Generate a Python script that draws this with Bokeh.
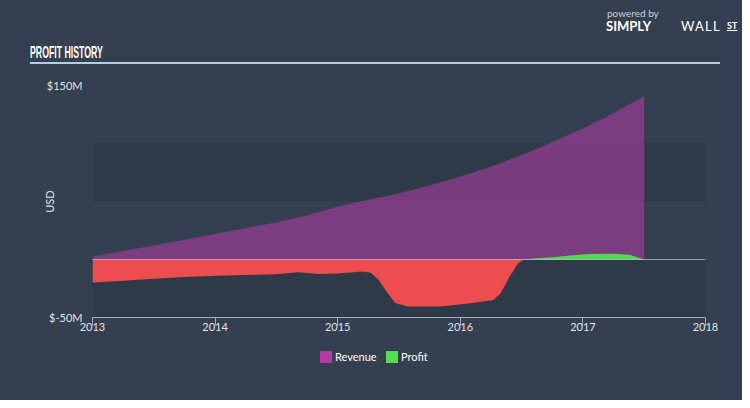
import numpy as np
from bokeh.plotting import figure
from bokeh.layouts import column
from bokeh.models import (BoxAnnotation, FixedTicker, Div, PrintfTickFormatter, Range1d)
from bokeh.embed import file_html
from bokeh.resources import INLINE

# ---------------- data (USD millions) ----------------
rev_t = [2013.00, 2013.25, 2013.50, 2013.75, 2014.00, 2014.25, 2014.50, 2014.75,
         2015.00, 2015.25, 2015.50, 2015.75, 2016.00, 2016.25, 2016.50, 2016.75,
         2017.00, 2017.25, 2017.50]
revenue = [2.6, 7.3, 12, 17, 22, 27, 32, 38,
           45.5, 51.5, 57, 64, 71.5, 80, 90, 101,
           113, 126, 140.5]

profit_t = [2013.00, 2013.25, 2013.50, 2013.75, 2014.00, 2014.25, 2014.50, 2014.67,
            2014.85, 2015.00, 2015.20, 2015.27, 2015.33, 2015.40, 2015.47, 2015.57,
            2015.84, 2016.10, 2016.27, 2016.33, 2016.40, 2016.47, 2016.52, 2016.60,
            2016.75, 2016.90, 2017.05, 2017.25, 2017.38, 2017.47, 2017.50]
profit = [-19.8, -18.3, -16.5, -15, -14, -13.3, -12.8, -11,
          -12.5, -12, -10.3, -11.5, -17, -28, -37.5, -40.5,
          -40.5, -37.5, -35, -29, -15, -3.5, 0, 0.8,
          2, 3.5, 4.8, 5, 4, 1, -0.5]

year_ticks = [2013, 2014, 2015, 2016, 2017, 2018]
usd_ticks = [-50, 150]
bands = [(-50, 0), (50, 100)]
series_names = ["Revenue", "Profit"]

# ---------------- styling ----------------
BG = "#344050"
BAND = "#2e3a48"
REV = "#b23ba3"
LOSS = "#ec4d4f"
GAIN = "#4fdc4f"
TXT = "#dfe4ea"

HEAD_H = 70
FIG_H = 275
FOOT_H = 400 - HEAD_H - FIG_H

header_html = f"""
<div style="position:relative;width:742px;height:{HEAD_H}px;overflow:hidden;">
  <span style="position:absolute;left:30px;top:44px;display:inline-block;
        font-family:'Liberation Sans',Arial,sans-serif;font-weight:bold;font-size:16.5px;
        line-height:16px;color:#ffffff;transform:scaleX(0.53);transform-origin:0 0;
        white-space:nowrap;">PROFIT HISTORY</span>
  <div style="position:absolute;left:30px;top:62px;width:690px;height:2px;
       background:#b9cde0;"></div>
  <span style="position:absolute;left:607px;top:8px;font-family:Lato;font-size:10px;
        line-height:10px;color:#c9d1da;">powered by</span>
  <span style="position:absolute;left:606px;top:20px;font-family:Lato;font-weight:bold;
        font-size:13px;line-height:13px;color:#ffffff;">SIMPLY</span>
  <span style="position:absolute;left:681px;top:20px;font-family:Lato;font-weight:normal;
        font-size:13px;line-height:13px;letter-spacing:1.2px;color:#ffffff;">WALL</span>
  <span style="position:absolute;left:727px;top:21px;font-family:Lato;font-weight:bold;
        font-size:9px;line-height:9px;color:#ffffff;text-decoration:underline;">ST</span>
</div>
"""
header = Div(text=header_html, width=742, height=HEAD_H,
             styles={"background-color": BG, "margin": "0", "padding": "0"})

p = figure(width=742, height=FIG_H, output_backend="svg",
           toolbar_location=None,
           x_range=Range1d(2013, 2018), y_range=Range1d(-50, 150),
           min_border_left=92, min_border_right=37, min_border_top=85 - HEAD_H,
           min_border_bottom=FIG_H - (317 - HEAD_H))
p.background_fill_color = BG
p.border_fill_color = BG
p.outline_line_color = None
p.xgrid.visible = False
p.ygrid.visible = False

for lo, hi in bands:
    p.add_layout(BoxAnnotation(bottom=lo, top=hi, fill_color=BAND, fill_alpha=1,
                               line_color=None, level="underlay"))

pt = np.array(profit_t)
pv = np.array(profit)
p.varea(x=rev_t, y1=0, y2=revenue, fill_color=REV, fill_alpha=0.57)
p.varea(x=pt, y1=0, y2=np.minimum(pv, 0), fill_color=LOSS, fill_alpha=1)
p.varea(x=pt, y1=0, y2=np.maximum(pv, 0), fill_color=GAIN, fill_alpha=1)
p.line(x=[2013, 2018], y=[0, 0], line_color="#c5ced8", line_width=1.2, line_alpha=0.7)

# axes
xa = p.xaxis[0]
xa.ticker = FixedTicker(ticks=year_ticks)
xa.axis_line_color = "#9fb0c2"
xa.axis_line_width = 1.2
xa.major_tick_line_color = "#9fb0c2"
xa.major_tick_in = 0
xa.major_tick_out = 8
xa.minor_tick_line_color = None
xa.major_label_standoff = -3
xa.major_label_text_color = TXT
xa.major_label_text_font = "Lato"
xa.major_label_text_font_size = "11px"

ya = p.yaxis[0]
ya.ticker = FixedTicker(ticks=usd_ticks)
ya.formatter = PrintfTickFormatter(format="$%dM")
ya.axis_line_color = None
ya.major_tick_line_color = None
ya.minor_tick_line_color = None
ya.major_tick_out = 0
ya.major_label_standoff = 10
ya.major_label_text_color = TXT
ya.major_label_text_font = "Lato"
ya.major_label_text_font_size = "11px"
ya.axis_label = "USD"
ya.axis_label_standoff = -12
ya.axis_label_text_color = TXT
ya.axis_label_text_font = "Lato"
ya.axis_label_text_font_style = "normal"
ya.axis_label_text_font_size = "11px"

# legend (HTML footer below the chart)
legend_html = f"""
<div style="position:relative;width:742px;height:{FOOT_H}px;font-family:Lato;
     font-size:11px;line-height:12px;color:#ffffff;">
  <div style="position:absolute;left:320px;top:6px;width:12px;height:12px;
       background:{REV};"></div>
  <span style="position:absolute;left:335px;top:6px;">{series_names[0]}</span>
  <div style="position:absolute;left:386px;top:6px;width:12px;height:12px;
       background:#52e052;"></div>
  <span style="position:absolute;left:401px;top:6px;">{series_names[1]}</span>
</div>
"""
footer = Div(text=legend_html, width=742, height=FOOT_H,
             styles={"background-color": BG, "margin": "0", "padding": "0"})

layout = column(header, p, footer, spacing=0, styles={"background-color": BG})

open("out.html", "w").write(file_html(layout, INLINE))
